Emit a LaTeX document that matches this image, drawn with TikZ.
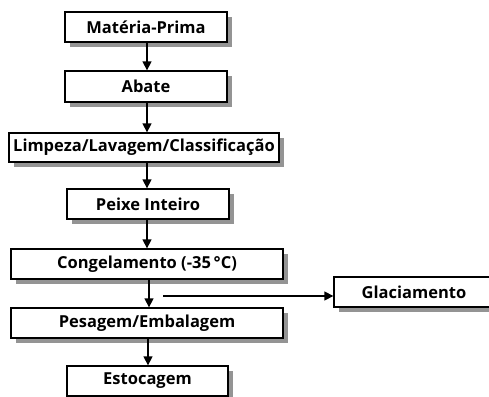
\documentclass[tikz,border=0pt]{standalone}
\usepackage{fontspec}
\setmainfont{Open Sans}
\usetikzlibrary{arrows.meta,shadows}
\begin{document}
\begin{tikzpicture}[x=1pt,y=-1pt,
  stepbox/.style={draw=black,line width=1.3pt,fill=white,inner sep=0pt,
    minimum height=30pt,font=\bfseries\fontsize{16.5}{19}\selectfont,
    drop shadow={shadow xshift=4.5pt,shadow yshift=-5pt,fill=black!42,opacity=1}},
  flow/.style={line width=1.3pt,-{Triangle[width=9pt,length=9pt]}}]
\useasboundingbox (0,0) rectangle (489,396);
\clip (0,0) rectangle (489,396);
% process steps
\node[stepbox,minimum width=162pt] (mp) at (146,27) {Matéria-Prima};
\node[stepbox,minimum width=162pt,minimum height=31pt] (ab) at (146,86.5) {Abate};
\node[stepbox,minimum width=270pt,minimum height=29pt] (lp) at (144,147.5) {Limpeza/Lavagem/Classificação};
\node[stepbox,minimum width=162pt] (pi) at (148,204) {Peixe Inteiro};
\node[stepbox,minimum width=272pt] (cg) at (147,264) {Congelamento (-35\,\textdegree C)};
\node[stepbox,minimum width=272pt] (pe) at (147,323) {Pesagem/Embalagem};
\node[stepbox,minimum width=161pt] (es) at (147.5,381) {Estocagem};
\node[stepbox,minimum width=160pt] (gl) at (414,292) {Glaciamento};
% side branch start
\coordinate (gs) at (163,296);
% connectors
\draw[flow] (mp.south -| 147,0) -- (ab.north -| 147,0);
\draw[flow] (ab.south -| 147,0) -- (lp.north -| 147,0);
\draw[flow] (lp.south -| 147,0) -- (pi.north -| 147,0);
\draw[flow] (pi.south -| 147,0) -- (cg.north -| 147,0);
\draw[flow] (cg.south -| 149,0) -- (pe.north -| 149,0);
\draw[flow] (pe.south -| 148,0) -- (es.north -| 148,0);
\draw[flow] (gs) -- (gs -| gl.west);
\end{tikzpicture}
\end{document}
